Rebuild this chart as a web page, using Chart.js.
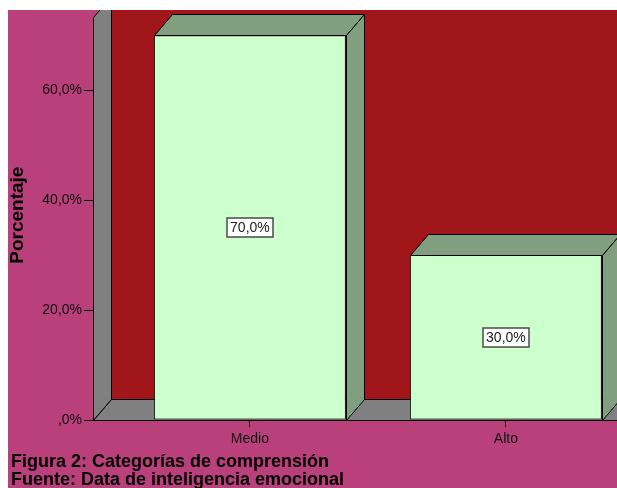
<!DOCTYPE html>
<html>
<head>
<meta charset="UTF-8">
<script src="https://cdn.jsdelivr.net/npm/chart.js@4.4.0/dist/chart.umd.min.js"></script>
<style>
  html, body { margin: 0; padding: 0; background: #fff; overflow: hidden; }
  #wrap { width: 617px; height: 488px; }
</style>
</head>
<body>
<div id="wrap"><canvas id="chart" width="617" height="488"></canvas></div>
<script>
// data
const categories = ['Medio', 'Alto'];
const percentages = [70, 30];
const barLabels = ['70,0%', '30,0%'];
const yTicks = [0, 20, 40, 60];
const yTickLabels = [',0%', '20,0%', '40,0%', '60,0%'];
const captionLines = ['Figura 2: Categorías de comprensión', 'Fuente: Data de inteligencia emocional'];

const FONT = '"Liberation Sans", Arial, sans-serif';
const DX = 18, DY = -21; // 3d depth offset

function poly(ctx, pts, fill) {
    ctx.beginPath();
    pts.forEach((p, i) => {
        const px = Math.round(p[0]) + 0.5, py = Math.round(p[1]) + 0.5;
        if (i === 0) ctx.moveTo(px, py); else ctx.lineTo(px, py);
    });
    ctx.closePath();
    ctx.fillStyle = fill;
    ctx.fill();
    ctx.strokeStyle = '#000';
    ctx.lineWidth = 1;
    ctx.stroke();
}

// walls, floor, 3d bar faces, labels, caption
const scenePlugin = {
    id: 'scene',
    beforeDraw(chart) {
        const { ctx, chartArea: a, width, height } = chart;
        ctx.save();
        ctx.fillStyle = '#fff';
        ctx.fillRect(0, 0, width, height);
        ctx.fillStyle = '#b9407a';
        ctx.fillRect(8, 10, width - 8, height - 10);
        ctx.beginPath();
        ctx.rect(8, 10, width - 8, height - 10);
        ctx.clip();
        // back wall
        ctx.fillStyle = '#a1161b';
        ctx.fillRect(a.left + DX, 0, width, a.bottom + DY);
        // left wall
        const wallTop = a.top + 7;
        poly(ctx, [[a.left, a.bottom], [a.left, wallTop], [a.left + DX, wallTop + DY], [a.left + DX, a.bottom + DY]], '#808080');
        // floor
        poly(ctx, [[a.left, a.bottom], [a.left + DX, a.bottom + DY], [width + 40, a.bottom + DY], [width + 40, a.bottom]], '#808080');
        ctx.restore();
    },
    afterDatasetsDraw(chart) {
        const ctx = chart.ctx;
        const meta = chart.getDatasetMeta(0);
        ctx.save();
        meta.data.forEach((bar, i) => {
            const { x, y, base, width } = bar.getProps(['x', 'y', 'base', 'width'], true);
            const l = x - width / 2, r = x + width / 2;
            poly(ctx, [[l, y], [l + DX, y + DY], [r + DX, y + DY], [r, y]], '#7f9f7f');
            poly(ctx, [[r, y], [r + DX, y + DY], [r + DX, base + DY], [r, base]], '#7f9f7f');

            ctx.font = '14px ' + FONT;
            const tw = ctx.measureText(barLabels[i]).width;
            const cy = (y + base) / 2;
            const bw = Math.round(tw + 6), bh = 19;
            const bx = Math.round(x - bw / 2), by = Math.round(cy - bh / 2);
            ctx.fillStyle = '#fff';
            ctx.fillRect(bx, by, bw, bh);
            ctx.strokeStyle = '#4a4a4a';
            ctx.lineWidth = 1.5;
            ctx.strokeRect(bx, by, bw, bh);
            ctx.fillStyle = '#222';
            ctx.textAlign = 'center';
            ctx.textBaseline = 'middle';
            ctx.fillText(barLabels[i], x, cy + 1);
        });
        ctx.restore();
    },
    afterDraw(chart) {
        const ctx = chart.ctx;
        ctx.save();
        ctx.font = 'bold 18px ' + FONT;
        ctx.fillStyle = '#000';
        ctx.textAlign = 'left';
        ctx.textBaseline = 'alphabetic';
        captionLines.forEach((line, i) => ctx.fillText(line, 11, 467 + i * 18));
        ctx.restore();
    }
};

new Chart(document.getElementById('chart'), {
    type: 'bar',
    data: {
        datasets: [{
            data: categories.map((c, i) => ({ x: i, y: percentages[i] })),
            backgroundColor: '#ccffcc',
            borderColor: '#111',
            borderWidth: 1,
            borderSkipped: false,
            barPercentage: 0.75,
            categoryPercentage: 1
        }]
    },
    options: {
        responsive: false,
        animation: false,
        layout: { padding: { left: 8, top: 10, right: 0, bottom: 0 } },
        plugins: { legend: { display: false }, tooltip: { enabled: false } },
        scales: {
            x: {
                type: 'linear',
                min: -0.613,
                max: 1.434,
                offset: false,
                afterBuildTicks: s => { s.ticks = categories.map((c, i) => ({ value: i })); },
                afterFit: s => { s.height = 68; },
                grid: { drawOnChartArea: false, offset: false, tickLength: 7, color: '#000' },
                border: { display: false },
                ticks: {
                    callback: v => categories[v],
                    color: '#111',
                    font: { family: FONT, size: 14 },
                    padding: 4,
                    autoSkip: false,
                    maxRotation: 0
                }
            },
            y: {
                min: 0,
                max: 74.5,
                afterBuildTicks: s => { s.ticks = yTicks.map(v => ({ value: v })); },
                afterFit: s => { s.width = 85; },
                grid: { drawOnChartArea: false, tickLength: 9, color: '#000' },
                border: { display: false },
                ticks: {
                    callback: v => yTickLabels[yTicks.indexOf(v)],
                    color: '#111',
                    font: { family: FONT, size: 14 },
                    padding: 2
                },
                title: {
                    display: true,
                    text: 'Porcentaje',
                    color: '#000',
                    font: { family: FONT, size: 19, weight: 'bold', lineHeight: 1 },
                    padding: { top: 0, bottom: 0 }
                }
            }
        }
    },
    plugins: [scenePlugin]
});
</script>
</body>
</html>
